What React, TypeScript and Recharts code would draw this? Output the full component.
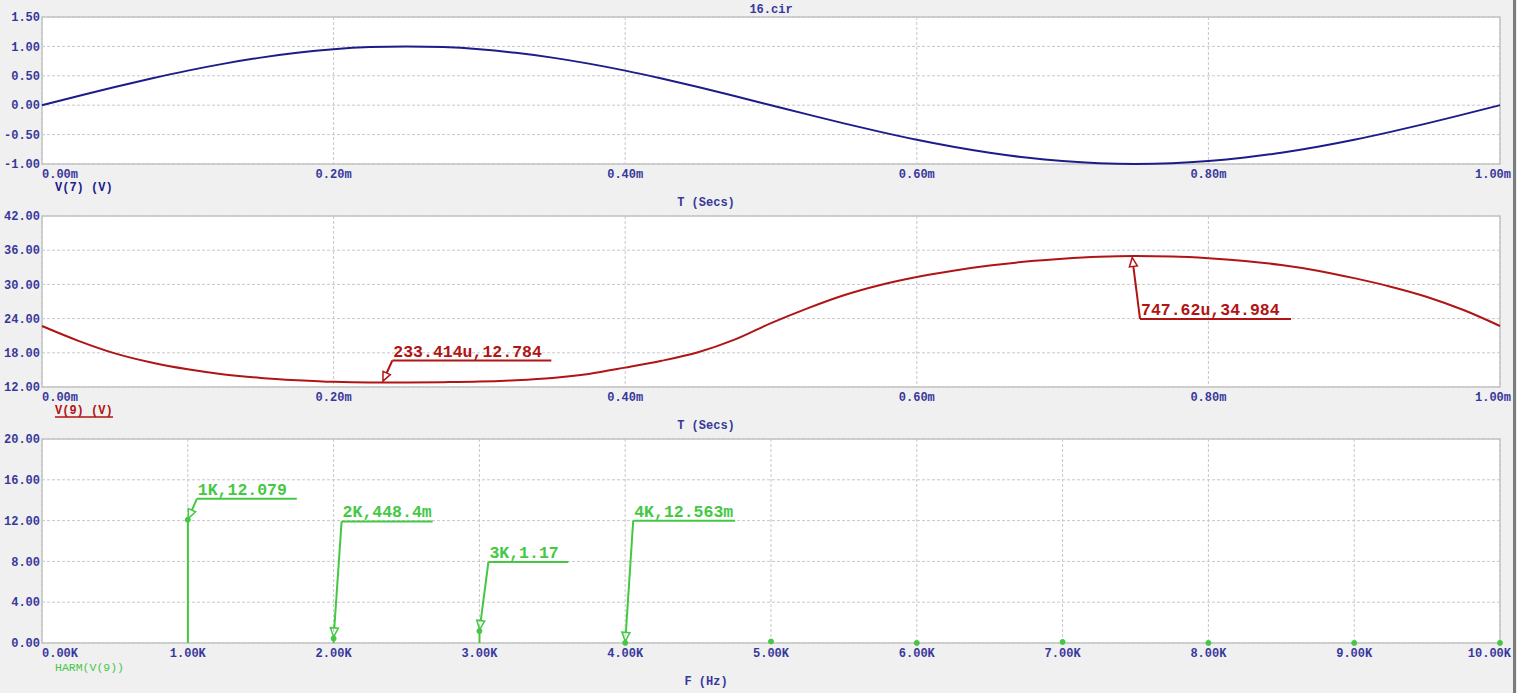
import React from 'react';
import {
  LineChart,
  Line,
  ComposedChart,
  Bar,
  XAxis,
  YAxis,
  CartesianGrid,
  ReferenceArea,
  ReferenceDot,
} from 'recharts';

// time axis (ms) shared by both transient plots
const timeMs = [
  0, 0.025, 0.05, 0.075, 0.1, 0.125, 0.15, 0.175, 0.2, 0.225, 0.25, 0.275, 0.3, 0.325,
  0.35, 0.375, 0.4, 0.425, 0.45, 0.475, 0.5, 0.525, 0.55, 0.575, 0.6, 0.625, 0.65, 0.675,
  0.7, 0.725, 0.75, 0.775, 0.8, 0.825, 0.85, 0.875, 0.9, 0.925, 0.95, 0.975, 1.0,
];

// V(7) input
const v7 = [
  0, 0.156, 0.309, 0.454, 0.588, 0.707, 0.809, 0.891, 0.951, 0.988, 1.0, 0.988, 0.951, 0.891,
  0.809, 0.707, 0.588, 0.454, 0.309, 0.156, 0, -0.156, -0.309, -0.454, -0.588, -0.707, -0.809, -0.891,
  -0.951, -0.988, -1.0, -0.988, -0.951, -0.891, -0.809, -0.707, -0.588, -0.454, -0.309, -0.156, 0,
];

// V(9) output
const v9 = [
  22.7, 20.1, 17.9, 16.3, 15.1, 14.2, 13.6, 13.2, 12.9, 12.8, 12.8, 12.85, 12.95, 13.2,
  13.6, 14.3, 15.4, 16.6, 18.1, 20.3, 23.2, 25.8, 28.1, 29.9, 31.3, 32.4, 33.3, 34.0,
  34.5, 34.85, 34.98, 34.9, 34.6, 34.1, 33.4, 32.4, 31.1, 29.6, 27.8, 25.5, 22.7,
];

// harmonics of V(9)
const harmFreqK = [1, 2, 3, 4, 5, 6, 7, 8, 9, 10];
const harmMag = [12.079, 0.4484, 1.17, 0.012563, 0.15, 0.01, 0.1, 0.01, 0.01, 0.01];

const timeTicks = [0, 0.2, 0.4, 0.6, 0.8, 1.0];
const freqTicks = [0, 1, 2, 3, 4, 5, 6, 7, 8, 9, 10];
const v7Ticks = [-1, -0.5, 0, 0.5, 1, 1.5];
const v9Ticks = [12, 18, 24, 30, 36, 42];
const harmTicks = [0, 4, 8, 12, 16, 20];

const v9Markers = [
  { x: 0.233414, y: 12.784, label: '233.414u,12.784' },
  { x: 0.74762, y: 34.984, label: '747.62u,34.984' },
];
const harmMarkers = [
  { x: 1, y: 12.079, label: '1K,12.079' },
  { x: 2, y: 0.4484, label: '2K,448.4m' },
  { x: 3, y: 1.17, label: '3K,1.17' },
  { x: 4, y: 0.012563, label: '4K,12.563m' },
];

// callout leader offsets in px (dx, dy to the elbow, then line length)
const v9MarkerLayout = [
  { dx: 10, dy: -22, len: 159 },
  { dx: 8, dy: 63, len: 151 },
];
const harmMarkerLayout = [
  { dx: 9, dy: -21, len: 100 },
  { dx: 8, dy: -117, len: 91 },
  { dx: 9, dy: -69, len: 80 },
  { dx: 8, dy: -122, len: 102 },
];

const MONO = '"Liberation Mono", "DejaVu Sans Mono", monospace';
const AXIS_COLOR = '#38389c';
const BLUE = '#1c1c8a';
const RED = '#b01414';
const GREEN = '#44c844';
const GRID = '#c8c8c8';

const v7Data = timeMs.map((t, i) => ({ t, v: v7[i] }));
const v9Data = timeMs.map((t, i) => ({ t, v: v9[i] }));
const harmData = harmFreqK.map((f, i) => ({ f, mag: harmMag[i] }));

const W = 1517;
const MARGIN = { top: 17, right: 17, left: 0, bottom: 0 };

const xTick = (fmt: (v: number) => string, lastVal: number) => (props: any) => {
  const { x, y, payload, index } = props;
  let anchor = 'middle';
  let tx = x;
  if (index === 0) anchor = 'start';
  else if (payload.value === lastVal) {
    anchor = 'end';
    tx = x + 11;
  }
  return (
    <text x={tx} y={y + 12} textAnchor={anchor} fill={AXIS_COLOR} fontFamily={MONO} fontSize={12} fontWeight="bold">
      {fmt(payload.value)}
    </text>
  );
};

const axisTitle = (title: string, legend: string, legendColor: string, underline = false, small = false) =>
  (props: any) => {
    const { viewBox } = props;
    const { x, y } = viewBox;
    return (
      <g>
        <text x={x + 664} y={y + 42} textAnchor="middle" fill={AXIS_COLOR} fontFamily={MONO} fontSize={12} fontWeight="bold" xmlSpace="preserve">
          {title}
        </text>
        <text
          x={x + 13}
          y={y + (small ? 28 : 27)}
          fill={legendColor}
          fontFamily={MONO}
          fontSize={small ? 11.5 : 12}
          fontWeight={small ? 'normal' : 'bold'}
        >
          {legend}
        </text>
        {underline && <line x1={x + 13} x2={x + 71} y1={y + 30} y2={y + 30} stroke={legendColor} strokeWidth={1.5} />}
      </g>
    );
  };

const callout = (label: string, color: string, dx: number, dy: number, len: number) => (props: any) => {
  const { cx, cy } = props;
  const ang = Math.atan2(dy, dx);
  const ux = Math.cos(ang);
  const uy = Math.sin(ang);
  const tipX = cx + ux * 1.5;
  const tipY = cy + uy * 1.5;
  const bx = tipX + ux * 9;
  const by = tipY + uy * 9;
  const px = -uy * 4;
  const py = ux * 4;
  const ex = cx + dx;
  const ey = cy + dy;
  return (
    <g>
      <polygon
        points={`${tipX},${tipY} ${bx + px},${by + py} ${bx - px},${by - py}`}
        fill="none"
        stroke={color}
        strokeWidth={1.5}
      />
      <line x1={bx} y1={by} x2={ex} y2={ey} stroke={color} strokeWidth={2} />
      <line x1={ex} y1={ey} x2={ex + len} y2={ey} stroke={color} strokeWidth={2} />
      <text x={ex + 1} y={ey - 4} fill={color} fontFamily={MONO} fontSize={16.5} fontWeight="bold">
        {label}
      </text>
    </g>
  );
};

const yTickStyle = { fill: AXIS_COLOR, fontFamily: MONO, fontSize: 12, fontWeight: 'bold' };

export default function App() {
  return (
    <div style={{ position: 'fixed', left: 0, top: 0, width: W, height: 693, background: '#f0f0f0', overflow: 'hidden' }}>
      <div
        style={{
          position: 'absolute',
          left: 0,
          width: 1542,
          top: 3,
          textAlign: 'center',
          color: AXIS_COLOR,
          fontFamily: MONO,
          fontSize: 12,
          fontWeight: 'bold',
        }}
      >
        16.cir
      </div>

      {/* V(7) */}
      <div style={{ position: 'absolute', left: 0, top: 0 }}>
        <LineChart width={W} height={210} data={v7Data} margin={MARGIN}>
          <CartesianGrid stroke={GRID} strokeDasharray="3 2" fill="#ffffff" />
          <XAxis
            dataKey="t"
            type="number"
            domain={[0, 1]}
            ticks={timeTicks}
            height={46}
            axisLine={false}
            tickLine={false}
            tickSize={0}
            tick={xTick((v) => v.toFixed(2) + 'm', 1)}
            label={{ content: axisTitle('T (Secs)', 'V(7) (V)', BLUE) }}
          />
          <YAxis
            type="number"
            domain={[-1, 1.5]}
            ticks={v7Ticks}
            width={42}
            axisLine={false}
            tickLine={false}
            tickSize={0}
            tickMargin={2}
            tick={yTickStyle}
            tickFormatter={(v) => v.toFixed(2)}
          />
          <ReferenceArea x1={0} x2={1} y1={-1} y2={1.5} fill="none" stroke="#c4c4c4" strokeWidth={1.5} />
          <Line dataKey="v" type="monotone" stroke={BLUE} strokeWidth={2} dot={false} isAnimationActive={false} />
        </LineChart>
      </div>

      {/* V(9) */}
      <div style={{ position: 'absolute', left: 0, top: 199 }}>
        <LineChart width={W} height={234} data={v9Data} margin={MARGIN}>
          <CartesianGrid stroke={GRID} strokeDasharray="3 2" fill="#ffffff" />
          <XAxis
            dataKey="t"
            type="number"
            domain={[0, 1]}
            ticks={timeTicks}
            height={46}
            axisLine={false}
            tickLine={false}
            tickSize={0}
            tick={xTick((v) => v.toFixed(2) + 'm', 1)}
            label={{ content: axisTitle('T (Secs)', 'V(9) (V)', RED, true) }}
          />
          <YAxis
            type="number"
            domain={[12, 42]}
            ticks={v9Ticks}
            width={42}
            axisLine={false}
            tickLine={false}
            tickSize={0}
            tickMargin={2}
            tick={yTickStyle}
            tickFormatter={(v) => v.toFixed(2)}
          />
          <ReferenceArea x1={0} x2={1} y1={12} y2={42} fill="none" stroke="#c4c4c4" strokeWidth={1.5} />
          <Line dataKey="v" type="monotone" stroke={RED} strokeWidth={2} dot={false} isAnimationActive={false} />
          {v9Markers.map((m, i) => (
            <ReferenceDot
              key={m.label}
              x={m.x}
              y={m.y}
              shape={callout(m.label, RED, v9MarkerLayout[i].dx, v9MarkerLayout[i].dy, v9MarkerLayout[i].len)}
            />
          ))}
        </LineChart>
      </div>

      {/* HARM(V(9)) */}
      <div style={{ position: 'absolute', left: 0, top: 422 }}>
        <ComposedChart width={W} height={267} data={harmData} margin={MARGIN}>
          <CartesianGrid stroke={GRID} strokeDasharray="3 2" fill="#ffffff" />
          <XAxis
            dataKey="f"
            type="number"
            domain={[0, 10]}
            ticks={freqTicks}
            height={46}
            axisLine={false}
            tickLine={false}
            tickSize={0}
            tick={xTick((v) => v.toFixed(2) + 'K', 10)}
            label={{ content: axisTitle('F (Hz)', 'HARM(V(9))', GREEN, false, true) }}
          />
          <YAxis
            type="number"
            domain={[0, 20]}
            ticks={harmTicks}
            width={42}
            axisLine={false}
            tickLine={false}
            tickSize={0}
            tickMargin={2}
            tick={yTickStyle}
            tickFormatter={(v) => v.toFixed(2)}
          />
          <ReferenceArea x1={0} x2={10} y1={0} y2={20} fill="none" stroke="#c4c4c4" strokeWidth={1.5} />
          <Bar dataKey="mag" barSize={2} fill={GREEN} isAnimationActive={false} />
          <Line
            dataKey="mag"
            stroke="none"
            dot={{ r: 2.5, fill: GREEN, stroke: GREEN, strokeWidth: 1 }}
            isAnimationActive={false}
          />
          {harmMarkers.map((m, i) => (
            <ReferenceDot
              key={m.label}
              x={m.x}
              y={m.y}
              shape={callout(m.label, GREEN, harmMarkerLayout[i].dx, harmMarkerLayout[i].dy, harmMarkerLayout[i].len)}
            />
          ))}
        </ComposedChart>
      </div>

      <div style={{ position: 'absolute', left: 1513, top: 0, width: 3, height: 693, background: '#7c7c7c' }} />
    </div>
  );
}
